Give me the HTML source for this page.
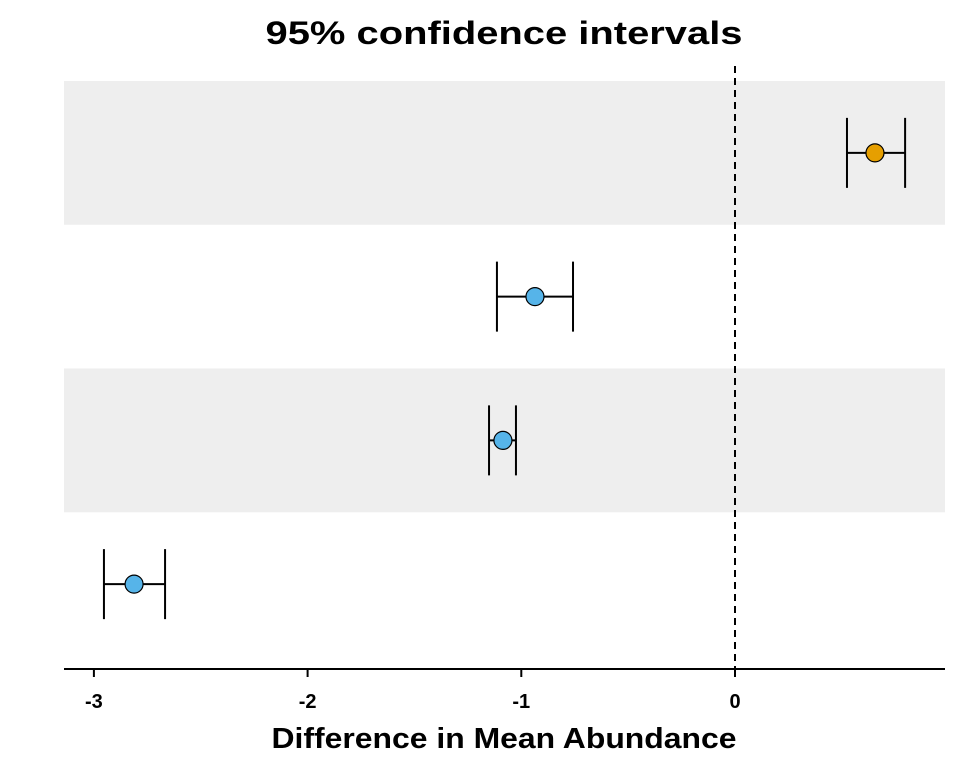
<!DOCTYPE html>
<html><head><meta charset="utf-8"><style>
body{margin:0;background:#fff}
svg{display:block;font-family:"Liberation Sans",Arial,sans-serif}
</style></head><body>
<svg id="chart" width="960" height="768">
<text x="504" y="44" text-anchor="middle" font-size="32" font-weight="bold" textLength="477" lengthAdjust="spacingAndGlyphs">95% confidence intervals</text>
<g id="bands"></g>
<line x1="735" y1="66" x2="735" y2="669" stroke="#000" stroke-width="2" stroke-dasharray="7,5"/>
<g id="marks"></g>
<line x1="64" y1="669" x2="945" y2="669" stroke="#000" stroke-width="2"/>
<g id="ticks"></g>
<text x="504" y="748" text-anchor="middle" font-size="29" font-weight="bold" textLength="465" lengthAdjust="spacingAndGlyphs">Difference in Mean Abundance</text>
</svg>
<script>
const rows = ["r1","r2","r3","r4"];
const estimates = [0.655, -0.936, -1.086, -2.812];
const lowers = [0.524, -1.114, -1.151, -2.953];
const uppers = [0.796, -0.758, -1.025, -2.667];
const colors = ["#E69F00","#56B4E9","#56B4E9","#56B4E9"];
const tickValues = [-3,-2,-1,0];
const tickLabels = ["-3","-2","-1","0"];

const NS="http://www.w3.org/2000/svg";
function x(v){return 735 + v*213.7;}
const bandTop=81, bandH=143.75;
function y(i){return bandTop + bandH*(i+0.5);}
function mk(tag,attrs,parent){const e=document.createElementNS(NS,tag);for(const k in attrs)e.setAttribute(k,attrs[k]);parent.appendChild(e);return e;}
const bands=document.getElementById('bands'),marks=document.getElementById('marks'),ticks=document.getElementById('ticks');
rows.forEach((r,i)=>{
  if(i%2===0){
    const b=mk('rect',{x:64,y:bandTop+bandH*i,width:881,height:bandH,fill:'#eeeeee'},bands);
    
    
  }
  const g=mk('g',{},marks);
  
  
  const cy=y(i), h=35;
  mk('line',{x1:x(lowers[i]),x2:x(uppers[i]),y1:cy,y2:cy,stroke:'#000','stroke-width':2},g);
  mk('line',{x1:x(lowers[i]),x2:x(lowers[i]),y1:cy-h,y2:cy+h,stroke:'#000','stroke-width':2},g);
  mk('line',{x1:x(uppers[i]),x2:x(uppers[i]),y1:cy-h,y2:cy+h,stroke:'#000','stroke-width':2},g);
  const c=mk('circle',{cx:x(estimates[i]),cy:cy,r:9,fill:colors[i],stroke:'#000','stroke-width':1.2},g);
  
  
});
tickValues.forEach((v,i)=>{
  mk('line',{x1:x(v),x2:x(v),y1:669,y2:677,stroke:'#000','stroke-width':2},ticks);
  const t=mk('text',{x:x(v),y:708,'text-anchor':'middle','font-size':20,'font-weight':'bold'},ticks);
  t.textContent=tickLabels[i];
  
  
});
</script>
</body></html>
